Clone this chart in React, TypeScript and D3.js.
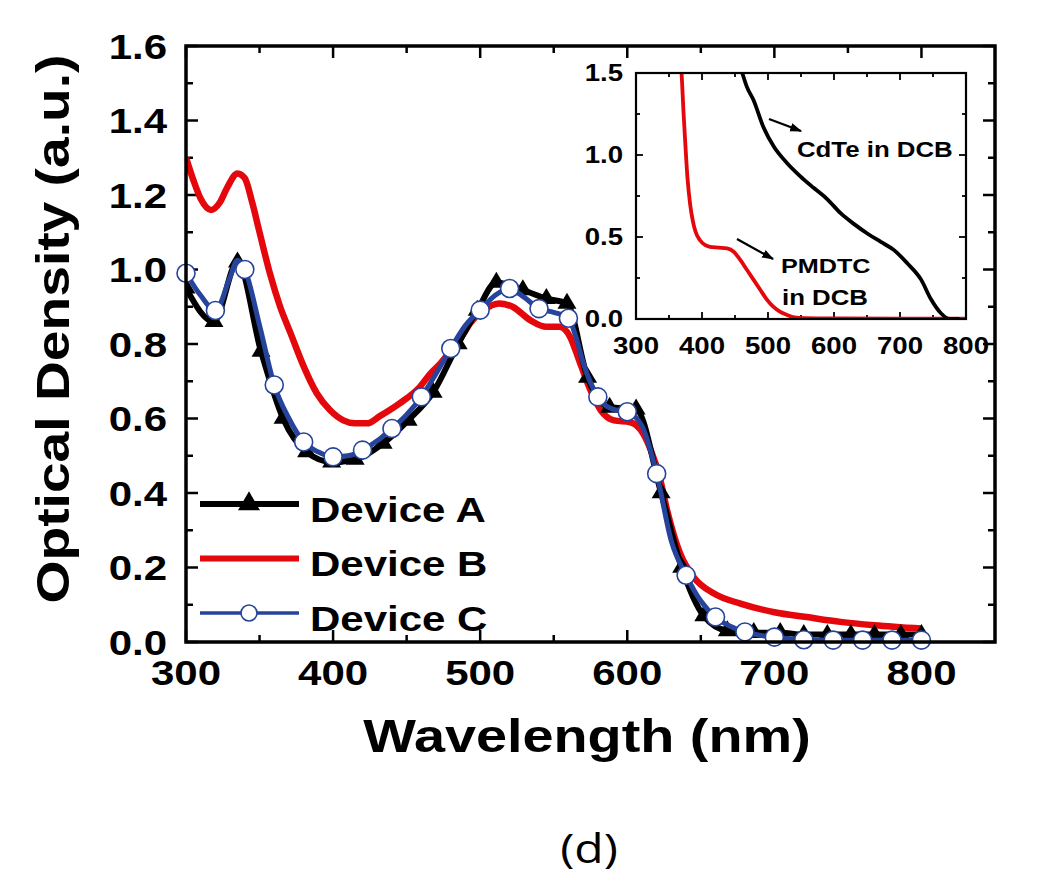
import React from 'react';
import * as d3 from 'd3';

// ---------- data ----------
// Device A (black, triangles) — wavelength (nm) / optical density
const deviceA_nm = [300, 319, 335, 351, 366, 382, 399, 415, 434, 451, 468, 485, 498, 511, 529, 545, 559, 573, 588, 606, 623, 637, 652, 668, 686, 704, 720, 736, 752, 768, 786, 800];
const deviceA_od = [0.95, 0.86, 1.02, 0.78, 0.60, 0.51, 0.483, 0.49, 0.533, 0.595, 0.67, 0.80, 0.89, 0.965, 0.945, 0.922, 0.909, 0.71, 0.63, 0.625, 0.40, 0.20, 0.07, 0.03, 0.025, 0.025, 0.02, 0.02, 0.02, 0.02, 0.02, 0.02];

// Device B (red, line only)
const deviceB_nm = [300, 305, 310, 317, 323, 328, 335, 340, 345, 350, 357, 364, 371, 380, 389, 398, 407, 415, 423, 432, 445, 459, 466, 473, 480, 489, 493, 502, 513, 522, 534, 545, 554, 561, 568, 575, 582, 591, 602, 609, 616, 622, 627, 636, 645, 659, 677, 700, 722, 745, 768, 800];
const deviceB_od = [1.30, 1.24, 1.19, 1.16, 1.18, 1.22, 1.258, 1.245, 1.18, 1.10, 0.99, 0.90, 0.83, 0.74, 0.667, 0.622, 0.595, 0.587, 0.587, 0.607, 0.64, 0.685, 0.72, 0.748, 0.783, 0.83, 0.855, 0.89, 0.909, 0.90, 0.864, 0.846, 0.846, 0.82, 0.748, 0.676, 0.622, 0.595, 0.59, 0.57, 0.515, 0.443, 0.355, 0.237, 0.175, 0.13, 0.103, 0.08, 0.067, 0.054, 0.045, 0.036];

// Device C (blue, open circles at every 20 nm)
const deviceC_nm = [300, 310, 320, 330, 335, 340, 350, 360, 370, 380, 390, 400, 410, 420, 430, 440, 450, 460, 470, 480, 490, 500, 510, 520, 530, 540, 550, 560, 565, 570, 580, 590, 600, 610, 620, 630, 640, 650, 660, 670, 680, 690, 700, 710, 720, 740, 760, 780, 800];
const deviceC_od = [0.99, 0.93, 0.89, 0.98, 1.025, 1.00, 0.85, 0.69, 0.60, 0.537, 0.51, 0.497, 0.50, 0.515, 0.54, 0.573, 0.61, 0.658, 0.72, 0.788, 0.85, 0.891, 0.93, 0.949, 0.925, 0.895, 0.885, 0.869, 0.82, 0.75, 0.658, 0.625, 0.618, 0.58, 0.452, 0.27, 0.179, 0.11, 0.067, 0.042, 0.027, 0.018, 0.013, 0.009, 0.006, 0.005, 0.005, 0.005, 0.005];
const deviceC_markerStep = 20;

// Inset: CdTe in DCB (black) and PMDTC in DCB (red)
const cdte_nm = [456, 461, 468, 478, 493, 509, 529, 549, 569, 590, 610, 630, 651, 671, 691, 711, 732, 747, 762, 775, 790];
const cdte_od = [1.56, 1.5, 1.415, 1.335, 1.17, 1.05, 0.95, 0.87, 0.80, 0.73, 0.645, 0.58, 0.52, 0.47, 0.42, 0.34, 0.24, 0.12, 0.035, 0.0, 0.0];
const pmdtc_nm = [367, 369, 372, 375, 378, 382, 386, 390, 397, 405, 412, 425, 438, 448, 458, 468, 478, 488, 498, 508, 518, 529, 540, 555, 600, 700, 800];
const pmdtc_od = [1.6, 1.5, 1.26, 1.05, 0.86, 0.70, 0.60, 0.535, 0.48, 0.45, 0.44, 0.435, 0.43, 0.41, 0.36, 0.30, 0.24, 0.18, 0.12, 0.075, 0.045, 0.025, 0.01, 0.005, 0.003, 0.002, 0.002];

const legendNames = ['Device A', 'Device B', 'Device C'];
const mainXTicks = [300, 400, 500, 600, 700, 800];
const mainYTicks = [0.0, 0.2, 0.4, 0.6, 0.8, 1.0, 1.2, 1.4, 1.6];
const insetXTicks = [300, 400, 500, 600, 700, 800];
const insetYTicks = [0.0, 0.5, 1.0, 1.5];

const RED = '#e4070c';
const BLUE = '#26449c';
const BLACK = '#000';
const SX = 1.2; // horizontal glyph stretch observed in the reference
const FONT = '"Liberation Sans", Arial, sans-serif';

function T({ x, y, size, children, anchor = 'start', rotate = 0, weight = 'bold', family = FONT }: any) {
  const tr = `translate(${x},${y})${rotate ? ` rotate(${rotate})` : ''} scale(${SX},1)`;
  return (
    <text transform={tr} fontSize={size} fontWeight={weight} fontFamily={family} textAnchor={anchor} fill="#000">
      {children}
    </text>
  );
}

function triPath(cx: number, cy: number, w: number, h: number) {
  // centroid-centered triangle
  return `M${cx},${cy - (2 * h) / 3}L${cx + w / 2},${cy + h / 3}L${cx - w / 2},${cy + h / 3}Z`;
}

export default function App() {
  const W = 1050, H = 881;
  const x = d3.scaleLinear().domain([300, 850]).range([186, 995]);
  const y = d3.scaleLinear().domain([0, 1.6]).range([642, 46]);
  const xi = d3.scaleLinear().domain([300, 800]).range([636, 966]);
  const yi = d3.scaleLinear().domain([0, 1.5]).range([319, 73]);

  const lineMain = d3.line<[number, number]>().x(d => x(d[0])).y(d => y(d[1])).curve(d3.curveMonotoneX);
  const lineInset = d3.line<[number, number]>().x(d => xi(d[0])).y(d => yi(d[1])).curve(d3.curveMonotoneX);

  const A = deviceA_nm.map((n, i) => [n, deviceA_od[i]] as [number, number]);
  const B = deviceB_nm.map((n, i) => [n, deviceB_od[i]] as [number, number]);
  const C = deviceC_nm.map((n, i) => [n, deviceC_od[i]] as [number, number]);
  const Cmarks = C.filter(d => d[0] % deviceC_markerStep === 0);
  const cd = cdte_nm.map((n, i) => [n, cdte_od[i]] as [number, number]);
  const pm = pmdtc_nm.map((n, i) => [n, pmdtc_od[i]] as [number, number]);

  const [x0, x1] = x.range();
  const [y0, y1] = y.range();
  const [ix0, ix1] = xi.range();
  const [iy0, iy1] = yi.range();

  const xMinor = d3.range(350, 850, 100);
  const yMinor = d3.range(0.1, 1.6, 0.2);
  const ixMinor = d3.range(350, 800, 100);
  const iyMinor = d3.range(0.25, 1.5, 0.5);

  const tickSW = 2.5;
  const majL = 12, minL = 7;
  const imajL = 7, iminL = 4;

  return (
    <svg width={W} height={H} style={{ position: 'absolute', left: 0, top: 0, background: '#fff' }}>
      <defs>
        <clipPath id="mainClip"><rect x={x0} y={y1} width={x1 - x0} height={y0 - y1} /></clipPath>
        <clipPath id="insetClip"><rect x={ix0} y={iy1} width={ix1 - ix0} height={iy0 - iy1} /></clipPath>
        <marker id="arr" viewBox="0 0 10 10" refX="9" refY="5" markerWidth="5" markerHeight="5" orient="auto">
          <path d="M0,1.5L10,5L0,8.5Z" fill="#000" />
        </marker>
      </defs>

      {/* ===== main ticks ===== */}
      <g stroke="#000" strokeWidth={tickSW}>
        {mainXTicks.map(t => (
          <g key={'mx' + t}>
            <line x1={x(t)} x2={x(t)} y1={y0} y2={y0 - majL} />
            <line x1={x(t)} x2={x(t)} y1={y1} y2={y1 + majL} />
          </g>
        ))}
        {xMinor.map(t => (
          <g key={'mxm' + t}>
            <line x1={x(t)} x2={x(t)} y1={y0} y2={y0 - minL} />
            <line x1={x(t)} x2={x(t)} y1={y1} y2={y1 + minL} />
          </g>
        ))}
        {mainYTicks.map(t => (
          <g key={'my' + t}>
            <line x1={x0} x2={x0 + majL} y1={y(t)} y2={y(t)} />
            <line x1={x1} x2={x1 - majL} y1={y(t)} y2={y(t)} />
          </g>
        ))}
        {yMinor.map(t => (
          <g key={'mym' + t}>
            <line x1={x0} x2={x0 + minL} y1={y(t)} y2={y(t)} />
            <line x1={x1} x2={x1 - minL} y1={y(t)} y2={y(t)} />
          </g>
        ))}
      </g>

      {/* ===== main curves ===== */}
      <g clipPath="url(#mainClip)">
        <path d={lineMain(B) || ''} fill="none" stroke={RED} strokeWidth={6.5} strokeLinejoin="round" />
        <path d={lineMain(A) || ''} fill="none" stroke={BLACK} strokeWidth={6} strokeLinejoin="round" />
        {A.map((d, i) => (
          <path key={'ta' + i} d={triPath(x(d[0]), y(d[1]), 19, 16)} fill={BLACK} />
        ))}
        <path d={lineMain(C) || ''} fill="none" stroke={BLUE} strokeWidth={5} strokeLinejoin="round" />
      </g>
      {Cmarks.map((d, i) => (
        <circle key={'cc' + i} cx={x(d[0])} cy={y(d[1])} r={9} fill="#fff" stroke={BLUE} strokeWidth={1.6} />
      ))}

      {/* main frame */}
      <rect x={x0} y={y1} width={x1 - x0} height={y0 - y1} fill="none" stroke="#000" strokeWidth={3.5} />

      {/* main tick labels */}
      {mainYTicks.map(t => (
        <T key={'yl' + t} x={167} y={y(t) + 12.5} size={35} anchor="end">{t.toFixed(1)}</T>
      ))}
      {mainXTicks.map(t => (
        <T key={'xl' + t} x={x(t)} y={685} size={35} anchor="middle">{t}</T>
      ))}

      {/* axis titles */}
      <T x={587} y={752} size={46.5} anchor="middle">Wavelength (nm)</T>
      <T x={69} y={329} size={46} anchor="middle" rotate={-90}>Optical Density (a.u.)</T>

      {/* legend */}
      {legendNames.map((name, i) => {
        const ly = 504 + i * 54.5;
        const col = i === 0 ? BLACK : i === 1 ? RED : BLUE;
        return (
          <g key={name}>
            <line x1={200} x2={299} y1={ly} y2={ly} stroke={col} strokeWidth={i === 2 ? 3.5 : 6} />
            {i === 0 && <path d={triPath(249, ly, 22, 19)} fill={BLACK} />}
            {i === 2 && <circle cx={249} cy={ly} r={8} fill="#fff" stroke={BLUE} strokeWidth={1.6} />}
            <T x={310} y={ly + 17.5} size={35}>{name}</T>
          </g>
        );
      })}

      {/* ===== inset ===== */}
      <g stroke="#000" strokeWidth={1.8}>
        {insetXTicks.map(t => (
          <g key={'ix' + t}>
            <line x1={xi(t)} x2={xi(t)} y1={iy0} y2={iy0 - imajL} />
            <line x1={xi(t)} x2={xi(t)} y1={iy1} y2={iy1 + imajL} />
          </g>
        ))}
        {ixMinor.map(t => (
          <g key={'ixm' + t}>
            <line x1={xi(t)} x2={xi(t)} y1={iy0} y2={iy0 - iminL} />
            <line x1={xi(t)} x2={xi(t)} y1={iy1} y2={iy1 + iminL} />
          </g>
        ))}
        {insetYTicks.map(t => (
          <g key={'iy' + t}>
            <line x1={ix0} x2={ix0 + imajL} y1={yi(t)} y2={yi(t)} />
            <line x1={ix1} x2={ix1 - imajL} y1={yi(t)} y2={yi(t)} />
          </g>
        ))}
        {iyMinor.map(t => (
          <g key={'iym' + t}>
            <line x1={ix0} x2={ix0 + iminL} y1={yi(t)} y2={yi(t)} />
            <line x1={ix1} x2={ix1 - iminL} y1={yi(t)} y2={yi(t)} />
          </g>
        ))}
      </g>
      <g clipPath="url(#insetClip)">
        <path d={lineInset(pm) || ''} fill="none" stroke={RED} strokeWidth={3.8} strokeLinejoin="round" />
        <path d={lineInset(cd) || ''} fill="none" stroke={BLACK} strokeWidth={3.8} strokeLinejoin="round" />
      </g>
      <rect x={ix0} y={iy1} width={ix1 - ix0} height={iy0 - iy1} fill="none" stroke="#000" strokeWidth={2.2} />
      {insetYTicks.map(t => (
        <T key={'iyl' + t} x={623} y={yi(t) + 8.3} size={23} anchor="end">{t.toFixed(1)}</T>
      ))}
      {insetXTicks.map(t => (
        <T key={'ixl' + t} x={xi(t)} y={354} size={23} anchor="middle">{t}</T>
      ))}

      {/* inset annotations */}
      <line x1={769} y1={119} x2={801} y2={131} stroke="#000" strokeWidth={2.4} markerEnd="url(#arr)" />
      <line x1={737} y1={239} x2={773} y2={259} stroke="#000" strokeWidth={2.4} markerEnd="url(#arr)" />
      <T x={797} y={157} size={21.5}>CdTe in DCB</T>
      <T x={781} y={273} size={21}>PMDTC</T>
      <T x={782} y={305} size={21.5}>in DCB</T>

      {/* panel label */}
      <T x={589} y={863} size={40} anchor="middle" weight="normal" family='"Open Sans", "Noto Sans", sans-serif'>(d)</T>
    </svg>
  );
}
